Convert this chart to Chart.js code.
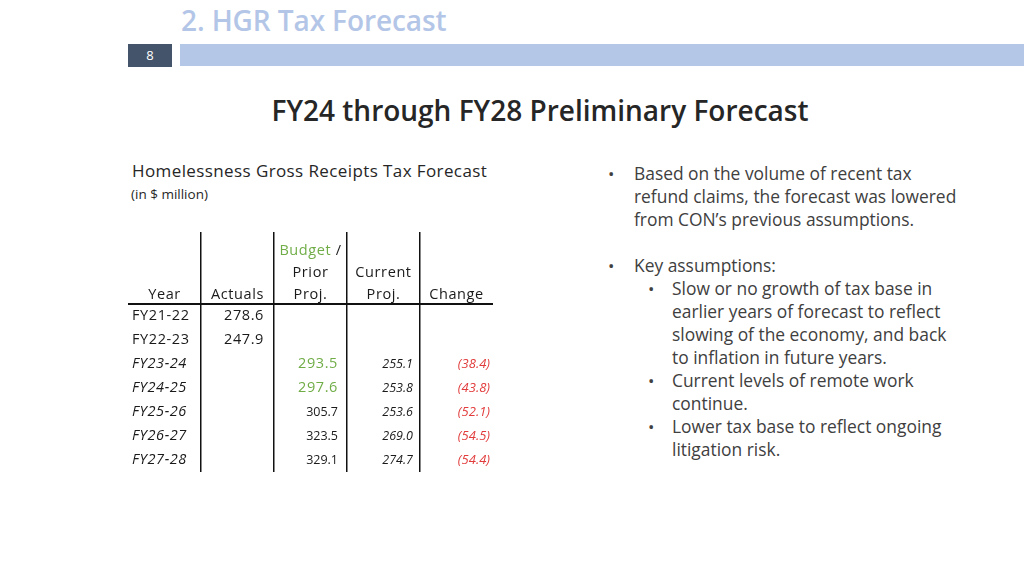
<!DOCTYPE html>
<html>
<head>
<meta charset="utf-8">
<script src="https://cdn.jsdelivr.net/npm/chart.js@4.4.1/dist/chart.umd.min.js"></script>
<style>
  html,body{margin:0;padding:0;background:#fff;}
  body{width:1024px;height:576px;position:relative;overflow:hidden;font-family:"Open Sans","Noto Sans",sans-serif;}
  .abs{position:absolute;white-space:nowrap;}
  #title{left:181px;top:1px;font-size:28px;font-weight:600;color:#b4c6e7;letter-spacing:-0.1px;}
  #pg{left:128px;top:44px;width:44px;height:23px;background:#44546a;color:#fff;font-size:13px;text-align:center;line-height:23px;}
  #bar{left:180px;top:44px;width:844px;height:22px;background:#b4c7e7;}
  #head{left:0;width:1080px;top:91px;text-align:center;font-size:28px;font-weight:600;color:#262626;}
  #ttl{left:132px;top:159px;font-size:17px;letter-spacing:0.4px;color:#262626;}
  #sub{left:131px;top:185px;font-size:13.5px;color:#262626;}
  .bl{position:absolute;font-size:17.4px;color:#404040;line-height:23px;}
  .dot{position:absolute;font-size:17px;color:#404040;line-height:23px;}
  #wrap{position:absolute;left:128px;top:232px;width:365px;height:240px;}
</style>
</head>
<body>
<div id="title" class="abs">2. HGR Tax Forecast</div>
<div id="pg" class="abs">8</div>
<div id="bar" class="abs"></div>
<div id="head" class="abs">FY24 through FY28 Preliminary Forecast</div>
<div id="ttl" class="abs">Homelessness Gross Receipts Tax Forecast</div>
<div id="sub" class="abs">(in $ million)</div>

<div class="dot" style="left:608px;top:162px;">•</div>
<div class="bl" style="left:634px;top:162px;">Based on the volume of recent tax<br>refund claims, the forecast was lowered<br>from CON’s previous assumptions.</div>
<div class="dot" style="left:608px;top:254px;">•</div>
<div class="bl" style="left:634px;top:254px;">Key assumptions:</div>
<div class="dot" style="left:648px;top:277px;">•</div>
<div class="bl" style="left:672px;top:277px;">Slow or no growth of tax base in<br>earlier years of forecast to reflect<br>slowing of the economy, and back<br>to inflation in future years.</div>
<div class="dot" style="left:648px;top:369px;">•</div>
<div class="bl" style="left:672px;top:369px;">Current levels of remote work<br>continue.</div>
<div class="dot" style="left:648px;top:415px;">•</div>
<div class="bl" style="left:672px;top:415px;">Lower tax base to reflect ongoing<br>litigation risk.</div>

<div id="wrap"><canvas id="c"></canvas></div>

<script>
// ---- data ----
const columns = ['Year', 'Actuals', 'Prior Proj.', 'Current Proj.', 'Change'];
const headerLines = [
  ['', '', 'Budget /', '', ''],
  ['', '', 'Prior', 'Current', ''],
  ['Year', 'Actuals', 'Proj.', 'Proj.', 'Change']
];
const years = ['FY21-22', 'FY22-23', 'FY23-24', 'FY24-25', 'FY25-26', 'FY26-27', 'FY27-28'];
const actuals = [278.6, 247.9, null, null, null, null, null];
const priorProj = [null, null, 293.5, 297.6, 305.7, 323.5, 329.1];
const currentProj = [null, null, 255.1, 253.8, 253.6, 269.0, 274.7];
const change = [null, null, -38.4, -43.8, -52.1, -54.5, -54.4];
const budgetRows = ['FY23-24', 'FY24-25'];   // prior projection taken from the adopted budget
const forecastFrom = 'FY23-24';              // first projected year

// ---- layout / style ----
const rowKeys = ['h0', 'h1', 'h2'].concat(years);
const FONT = '"Open Sans","Noto Sans",sans-serif';
const DARK = '#1a1a1a';
const GREEN = '#70ad47';
const RED = '#e23b3b';
const NONE = 'rgba(0,0,0,0)';

function fmt(v) { return v.toFixed(1); }
function fmtChange(v) { return v < 0 ? '(' + Math.abs(v).toFixed(1) + ')' : v.toFixed(1); }

const tablePlugin = {
  id: 'tableText',
  afterDraw(chart) {
    const ctx = chart.ctx;
    const xs = chart.scales.x, ys = chart.scales.y;
    const colW = xs.width / columns.length;
    const left = c => xs.getPixelForValue(c) - colW / 2;
    const right = c => xs.getPixelForValue(c) + colW / 2;
    ctx.save();
    ctx.textBaseline = 'middle';
    const spacing = v => { if ('letterSpacing' in ctx) ctx.letterSpacing = v; };
    // header
    const headOff = [7, 5, 3];
    spacing('0.6px');
    headerLines.forEach((line, r) => {
      const y = ys.getPixelForValue(r) + headOff[r];
      line.forEach((txt, c) => {
        if (!txt) return;
        const cx = xs.getPixelForValue(c);
        ctx.font = '14.5px ' + FONT;
        if (txt === 'Budget /') {
          const w1 = ctx.measureText('Budget').width, w2 = ctx.measureText(' /').width;
          const x0 = cx - (w1 + w2) / 2;
          ctx.textAlign = 'left';
          ctx.fillStyle = GREEN; ctx.fillText('Budget', x0, y);
          ctx.fillStyle = DARK; ctx.fillText(' /', x0 + w1, y);
        } else {
          ctx.textAlign = 'center';
          ctx.fillStyle = DARK;
          ctx.fillText(txt, cx, y);
        }
      });
    });
    const fIdx = years.indexOf(forecastFrom);
    years.forEach((yr, i) => {
      const y = ys.getPixelForValue(3 + i);
      const proj = i >= fIdx;
      ctx.textAlign = 'left';
      ctx.fillStyle = DARK;
      spacing('0.6px');
      ctx.font = (proj ? 'italic ' : '') + '14.5px ' + FONT;
      ctx.fillText(yr, left(0) + 4, y);
      ctx.textAlign = 'right';
      if (actuals[i] != null) {
        ctx.font = '14.5px ' + FONT; ctx.fillStyle = DARK;
        ctx.fillText(fmt(actuals[i]), right(1) - 10, y);
      }
      if (priorProj[i] != null) {
        const bud = budgetRows.includes(yr);
        spacing(bud ? '0.6px' : '0px');
        ctx.font = (bud ? '14.5px ' : '12.5px ') + FONT;
        ctx.fillStyle = bud ? GREEN : DARK;
        ctx.fillText(fmt(priorProj[i]), right(2) - 9, y);
      }
      spacing('0px');
      if (currentProj[i] != null) {
        ctx.font = 'italic 12.5px ' + FONT; ctx.fillStyle = DARK;
        ctx.fillText(fmt(currentProj[i]), right(3) - 7, y);
      }
      if (change[i] != null) {
        ctx.font = 'italic 13px ' + FONT; ctx.fillStyle = RED;
        ctx.fillText(fmtChange(change[i]), right(4) - 3, y);
      }
    });
    ctx.restore();
  }
};

new Chart(document.getElementById('c'), {
  type: 'scatter',
  data: { datasets: [] },
  options: {
    responsive: true,
    maintainAspectRatio: false,
    animation: false,
    layout: { padding: 0 },
    plugins: { legend: { display: false }, tooltip: { enabled: false } },
    scales: {
      x: {
        type: 'category', labels: columns, offset: true,
        ticks: { display: false },
        border: { display: false },
        grid: {
          offset: true, drawTicks: false, lineWidth: 1.5,
          color: c => (c.type !== 'tick' || c.index === 0 || c.index >= columns.length) ? NONE : '#111'
        }
      },
      y: {
        type: 'category', labels: rowKeys, offset: true,
        ticks: { display: false },
        border: { display: false },
        grid: {
          offset: true, drawTicks: false, lineWidth: 2,
          color: c => (c.type === 'tick' && c.index === headerLines.length) ? '#111' : NONE
        }
      }
    }
  },
  plugins: [tablePlugin]
});
</script>
</body>
</html>
